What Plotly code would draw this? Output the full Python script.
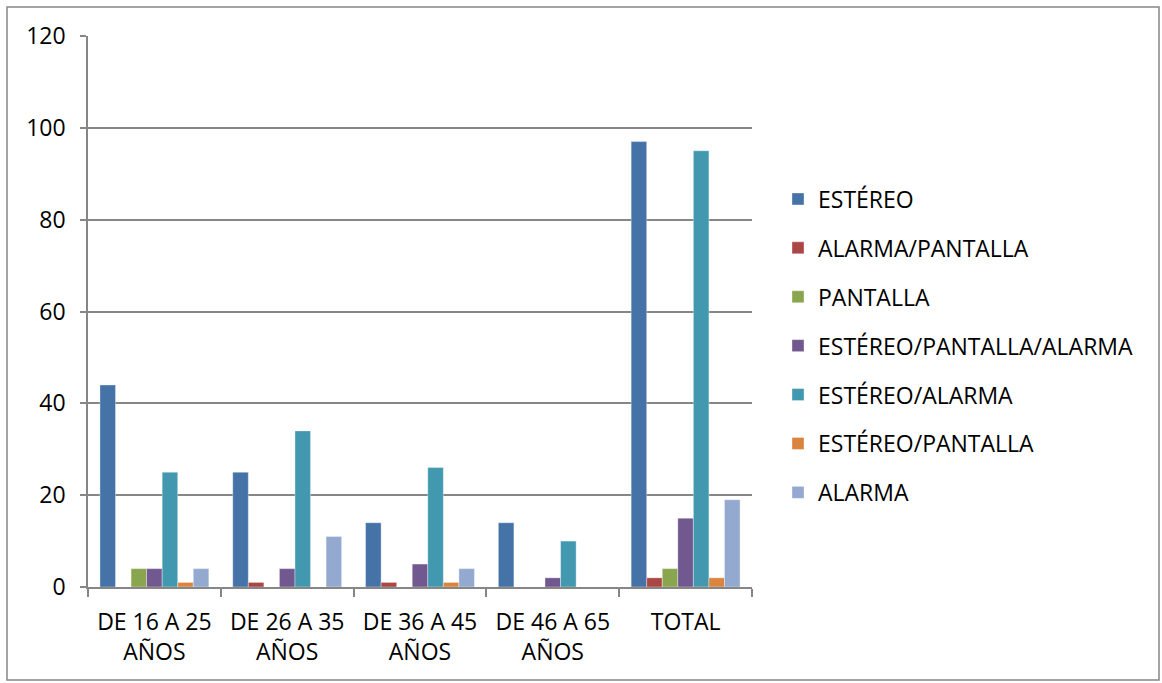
import plotly.graph_objects as go

categories = ["DE 16 A 25<br>AÑOS", "DE 26 A 35<br>AÑOS", "DE 36 A 45<br>AÑOS",
              "DE 46 A 65<br>AÑOS", "TOTAL"]

estereo = [44, 25, 14, 14, 97]
alarma_pantalla = [0, 1, 1, 0, 2]
pantalla = [4, 0, 0, 0, 4]
estereo_pantalla_alarma = [4, 4, 5, 2, 15]
estereo_alarma = [25, 34, 26, 10, 95]
estereo_pantalla = [1, 0, 1, 0, 2]
alarma = [4, 11, 4, 0, 19]

series = [
    ("ESTÉREO", estereo, "#4572A7"),
    ("ALARMA/PANTALLA", alarma_pantalla, "#AA4643"),
    ("PANTALLA", pantalla, "#89A54E"),
    ("ESTÉREO/PANTALLA/ALARMA", estereo_pantalla_alarma, "#71588F"),
    ("ESTÉREO/ALARMA", estereo_alarma, "#4198AF"),
    ("ESTÉREO/PANTALLA", estereo_pantalla, "#DB843D"),
    ("ALARMA", alarma, "#93A9CF"),
]

y_ticks = [0, 20, 40, 60, 80, 100, 120]

fig = go.Figure()
for i, (name, vals, color) in enumerate(series):
    fig.add_trace(go.Bar(
        x=categories, y=vals, name=name, legendgroup=str(i),
        marker=dict(color=color, line=dict(color="rgba(255,255,255,0.6)", width=0.6)),
    ))

W, H = 1162, 683
L, R, T, B = 88, 410, 36, 96
pw, ph = W - L - R, H - T - B
FS = 23

fig.update_layout(
    width=W, height=H,
    margin=dict(l=L, r=R, t=T, b=B),
    paper_bgcolor="white", plot_bgcolor="white",
    barmode="group", bargap=0.18, bargroupgap=0,
    font=dict(family="Open Sans, Carlito, Calibri, sans-serif", size=FS, color="black"),
    legend=dict(x=1.0 + (778 - 752) / pw, y=(H - B - 346) / ph, yanchor="middle",
                xanchor="left", font=dict(size=FS), tracegroupgap=16, itemwidth=30,
                bgcolor="rgba(0,0,0,0)"),
    showlegend=True,
    xaxis=dict(showline=True, linecolor="#868686", linewidth=1.5,
               ticks="outside", tickson="boundaries", ticklen=8, tickcolor="#868686",
               tickwidth=1.5, showgrid=False, tickfont=dict(size=FS),
               ticklabelstandoff=14),
    yaxis=dict(range=[0, 120], tickvals=y_ticks, showline=True, linecolor="#868686",
               linewidth=1.5, ticks="outside", ticklen=6, tickcolor="#868686", tickwidth=1.5,
               showgrid=True, gridcolor="#868686", gridwidth=1.5, zeroline=False,
               tickfont=dict(size=FS), ticklabelstandoff=10),
    shapes=[dict(type="rect", xref="paper", yref="paper",
                 x0=(7 - L) / pw, x1=(1159 - L) / pw,
                 y0=(H - B - 680) / ph, y1=(H - B - 7) / ph,
                 line=dict(color="#868686", width=1.5), fillcolor="rgba(0,0,0,0)")],
)

fig.write_html("out.html")
